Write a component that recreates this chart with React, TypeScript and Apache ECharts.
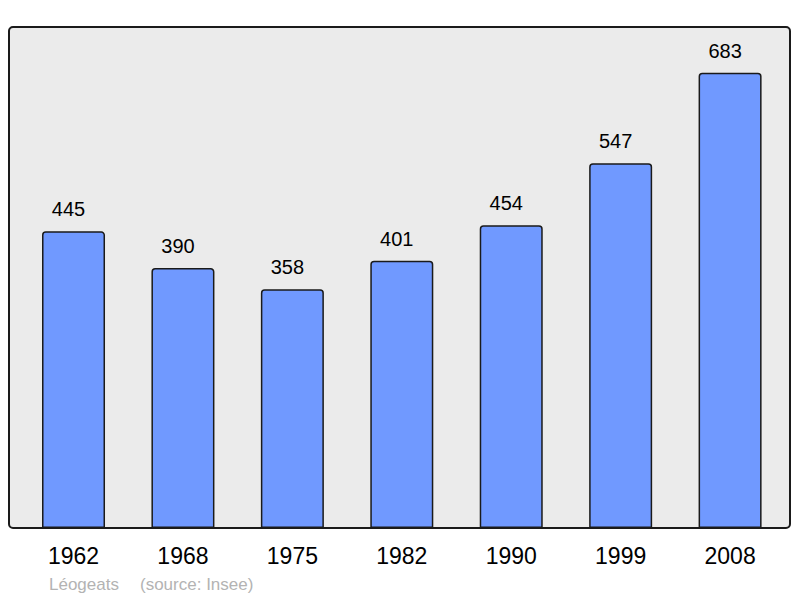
import React, { useEffect, useRef } from "react";
import * as echarts from "echarts";

const years = ["1962", "1968", "1975", "1982", "1990", "1999", "2008"];
const population = [445, 390, 358, 401, 454, 547, 683];
const townName = "Léogeats";
const sourceText = "(source: Insee)";

export default function App() {
  const ref = useRef<HTMLDivElement>(null);
  useEffect(() => {
    if (!ref.current) return;
    const chart = echarts.init(ref.current, undefined, { renderer: "svg" });
    chart.setOption({
      animation: false,
      graphic: [
        {
          type: "rect",
          z: -10,
          shape: { x: 9, y: 27, width: 781, height: 501, r: 4 },
          style: { fill: "#ebebeb", stroke: "#1a1a1a", lineWidth: 2 },
        },
        {
          type: "text",
          x: 49,
          y: 584,
          style: {
            text: townName,
            fill: "#b3b3b3",
            font: "17px 'Liberation Sans', Arial, sans-serif",
            verticalAlign: "middle",
          },
        },
        {
          type: "text",
          x: 140,
          y: 584,
          style: {
            text: sourceText,
            fill: "#b3b3b3",
            font: "17px 'Liberation Sans', Arial, sans-serif",
            verticalAlign: "middle",
          },
        },
      ],
      grid: { left: 18.8, width: 766, top: 28, height: 500, containLabel: false },
      xAxis: {
        type: "category",
        data: years,
        axisLine: { show: false },
        axisTick: { show: false },
        axisLabel: {
          margin: 16,
          fontSize: 23,
          color: "#000",
          fontFamily: "'Liberation Sans', Arial, sans-serif",
        },
      },
      yAxis: {
        type: "value",
        min: 0,
        max: 750,
        show: false,
        splitLine: { show: false },
      },
      series: [
        {
          type: "bar",
          data: population,
          barWidth: 63,
          itemStyle: {
            color: "#7099ff",
            borderColor: "#1a1a1a",
            borderWidth: 1.5,
            borderRadius: [3, 3, 0, 0],
          },
          label: {
            show: true,
            position: "top",
            distance: 12,
            offset: [-5, 0],
            fontSize: 20,
            color: "#000",
            fontFamily: "'Liberation Sans', Arial, sans-serif",
          },
        },
      ],
    });
    return () => chart.dispose();
  }, []);
  return <div ref={ref} style={{ width: 800, height: 598, position: "absolute", left: 0, top: 0 }} />;
}
